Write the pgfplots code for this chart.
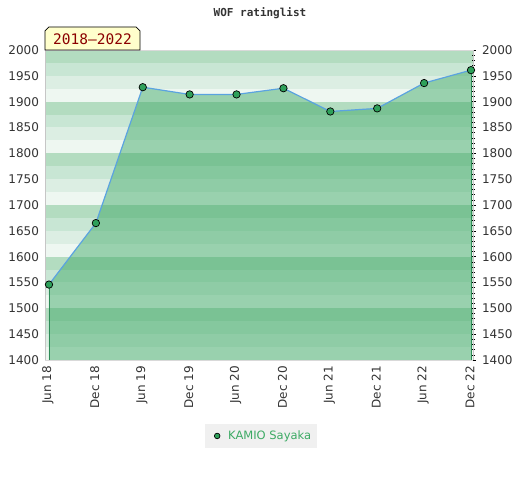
\documentclass[border=0pt]{standalone}
\usepackage{pgfplots}
\pgfplotsset{compat=1.18}
\usepackage{fontspec}
\newfontfamily\dv{DejaVu Sans}
\newfontfamily\dvm{DejaVu Sans Mono}
\definecolor{bandA}{HTML}{EEF7F1}
\definecolor{bandB}{HTML}{DCEEE3}
\definecolor{bandC}{HTML}{C8E6D4}
\definecolor{bandD}{HTML}{B3DCC0}
\definecolor{areagreen}{RGB}{59,167,100}
\definecolor{markgreen}{RGB}{46,160,90}
\definecolor{linecol}{HTML}{5BA3E0}
\definecolor{edgegreen}{HTML}{2E8B57}
\definecolor{legtext}{RGB}{60,170,100}
\definecolor{ticktext}{HTML}{333333}
\definecolor{boxyellow}{HTML}{FFFFCC}
\definecolor{darkred}{HTML}{8B0000}
\begin{document}
\begin{tikzpicture}[x=1bp,y=1bp]
\path[use as bounding box] (-45,-120) rectangle (475,360);
% background bands (25 rating points each)
\foreach \i in {0,...,23}{
  \pgfmathtruncatemacro\m{mod(\i,4)}
  \ifcase\m \def\bc{bandA}\or \def\bc{bandB}\or \def\bc{bandC}\or \def\bc{bandD}\fi
  \fill[\bc] (0,{\i*310/24}) rectangle (428,{(\i+1)*310/24});
}
% left labels axis
\begin{axis}[
  at={(0,0)}, anchor=south west, scale only axis,
  width=428bp, height=310bp,
  xmin=-0.085, xmax=9.043, ymin=1400, ymax=2000,
  hide x axis,
  axis y line*=left,
  y axis line style={draw=none},
  ytick={1400,1450,...,2000},
  ytick style={draw=none},
  yticklabel style={font=\dv\fontsize{12bp}{14bp}\selectfont, text=ticktext, xshift=-2.5bp},
  /pgf/number format/assume math mode=true,
  /pgf/number format/1000 sep={},
]
\end{axis}
% main axis
\begin{axis}[
  at={(0,0)}, anchor=south west, scale only axis,
  width=428bp, height=310bp,
  xmin=-0.085, xmax=9.043, ymin=1400, ymax=2000,
  separate axis lines,
  x axis line style={draw=gray!30},
  y axis line style={draw=gray!45},
  xtick={0,...,9},
  xticklabels={Jun 18,Dec 18,Jun 19,Dec 19,Jun 20,Dec 20,Jun 21,Dec 21,Jun 22,Dec 22},
  xtick style={draw=none},
  xticklabel style={rotate=90, anchor=east, font=\dv\fontsize{12bp}{14bp}\selectfont, text=ticktext, yshift=1bp},
  ytick={1400,1450,...,2000},
  minor y tick num=4,
  ytick pos=right, yticklabel pos=right,
  tick align=center,
  major tick length=5bp, minor tick length=3bp,
  every tick/.style={black, line width=0.6bp},
  yticklabel style={font=\dv\fontsize{12bp}{14bp}\selectfont, text=ticktext, xshift=3bp},
  /pgf/number format/assume math mode=true,
  /pgf/number format/1000 sep={},
  legend style={at={(0.505,-0.245)}, anchor=center, fill=gray!12, draw=none,
    font=\dv\fontsize{11.5bp}{13bp}\selectfont, text=legtext,
    inner xsep=4bp, inner ysep=4.5bp},
  legend cell align=left,
  legend image code/.code={\path[draw=none,fill=none] (0bp,0bp) -- (17bp,0bp); \draw[#1] plot coordinates {(8bp,0bp)};},
]
\addplot[fill=areagreen, fill opacity=0.475, draw=none, forget plot] coordinates {
  (0,1400) (0,1546) (1,1665) (2,1928) (3,1914) (4,1914) (5,1926) (6,1881) (7,1887) (8,1936) (9,1961) (9,1400)
} -- cycle;
\addplot[edgegreen, line width=0.9bp, forget plot] coordinates {(0,1400) (0,1546)};
\addplot[edgegreen, line width=0.9bp, forget plot] coordinates {(9,1400) (9,1961)};
\addplot[linecol, line width=1.2bp, forget plot] coordinates {
  (0,1546) (1,1665) (2,1928) (3,1914) (4,1914) (5,1926) (6,1881) (7,1887) (8,1936) (9,1961)
};
\addplot[only marks, mark=*, mark size=3.7bp, mark options={fill=markgreen, draw=black, line width=0.7bp}, legend image post style={mark size=2.8bp}] coordinates {
  (0,1546) (1,1665) (2,1928) (3,1914) (4,1914) (5,1926) (6,1881) (7,1887) (8,1936) (9,1961)
};
\addlegendentry{KAMIO Sayaka}
\end{axis}
% period label
\filldraw[fill=boxyellow, draw=black, line width=0.7bp] (0,310) -- (0,329) -- (4,333) -- (91,333) -- (95,329) -- (95,310) -- cycle;
\node[text=darkred, font=\dvm\fontsize{14.5bp}{16bp}\selectfont] at (47.5,321) {2018–2022};
% title
\node[text=ticktext, font=\dvm\bfseries\fontsize{11bp}{13bp}\selectfont] at (215,347) {WOF ratinglist};
\end{tikzpicture}
\end{document}
